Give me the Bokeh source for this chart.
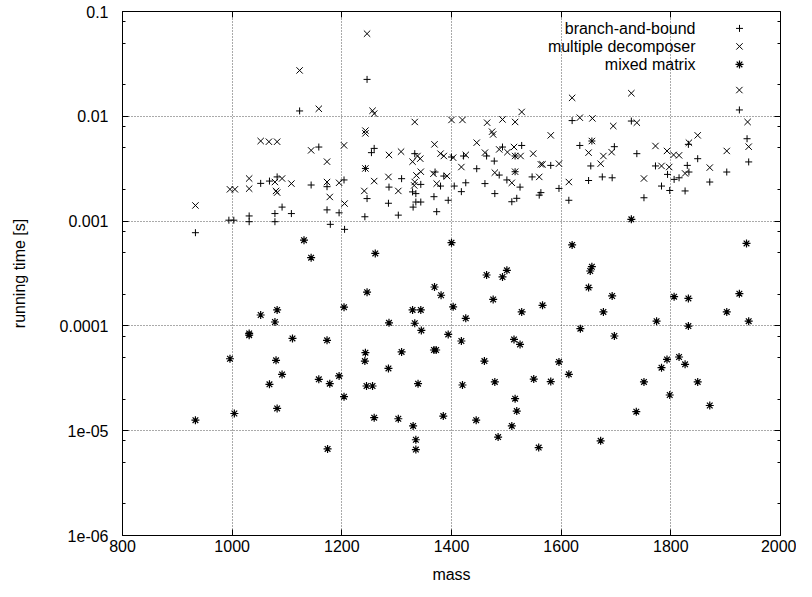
from bokeh.plotting import figure
from bokeh.models import (Range1d, FixedTicker, LinearAxis, LogAxis, LinearScale,
                          CustomJSTickFormatter, CustomLabelingPolicy)
from bokeh.core.properties import value
from bokeh.embed import file_html
from bokeh.resources import INLINE

# ---------------- data ----------------
bb_mass = [1123, 1246, 1620, 1925, 1728,
           933, 994, 1003, 1031, 1031, 1052, 1068, 1082, 1091, 1078, 1108, 1078,
           1158, 1259, 1254, 1144, 1173, 1204, 1173, 1195, 1179, 1205, 1243, 1246, 1242, 1286, 1285, 1309,
           1303, 1333, 1344, 1329, 1335, 1335, 1344, 1330,
           1400, 1422, 1370, 1386, 1380, 1405, 1426, 1418, 1368, 1394, 1373, 1464, 1446, 1478, 1493, 1528,
           1516, 1487, 1516, 1501, 1525, 1461, 1479, 1510, 1519, 1547, 1563, 1560,
           1634, 1656, 1581, 1596, 1614, 1654, 1650, 1697, 1675, 1693, 1738, 1751, 1772, 1794, 1783, 1798,
           1806, 1815, 1830, 1833, 1826, 1832, 1849, 1871, 1902, 1939, 1942]
bb_time = [0.01125, 0.0225, 0.0091, 0.0115, 0.00901,
           0.000775, 0.00102, 0.00102, 0.00112, 0.000987, 0.00229, 0.00241, 0.00264, 0.00136, 0.00118, 0.00118, 0.000987,
           0.00509, 0.00494, 0.00450, 0.00221, 0.00213, 0.00247, 0.00128, 0.00120, 0.000931, 0.000834, 0.00318, 0.00164,
           0.00110, 0.00211, 0.00148, 0.00254, 0.00114, 0.00440, 0.00224, 0.00190, 0.00183, 0.00152, 0.00152, 0.00136,
           0.00409, 0.00418, 0.00294, 0.00269, 0.00216, 0.00216, 0.00232, 0.00191, 0.00171, 0.00158, 0.00123, 0.00418,
           0.00316, 0.00374, 0.00509, 0.00527, 0.00418, 0.00275, 0.00296, 0.00247, 0.00211, 0.00228, 0.00183, 0.00153,
           0.00165, 0.00264, 0.00187, 0.00177,
           0.00527, 0.00581, 0.00340, 0.00205, 0.00158, 0.00336, 0.00244, 0.00513, 0.00264, 0.00259, 0.00440, 0.00167,
           0.00336, 0.00279, 0.00216, 0.00196, 0.00250, 0.00259, 0.00340, 0.00294, 0.00194, 0.00540, 0.00394, 0.00236,
           0.00294, 0.00611, 0.00367]

md_mass = [1123, 1158, 1246, 1256, 1259, 1243, 1333, 1400, 1420, 1465, 1493, 1516, 1528, 1474, 1620, 1728, 1925,
           1634, 1657, 1695, 1738, 1940,
           1052, 1067, 1082, 933, 996, 1005, 1031, 1031, 1078, 1091, 1080, 1082, 1108,
           1243, 1144, 1204, 1173, 1286, 1308, 1173, 1195, 1178, 1205, 1243, 1259, 1241, 1285, 1303, 1329, 1338,
           1343, 1344, 1336, 1333, 1332,
           1369, 1380, 1386, 1403, 1426, 1418, 1367, 1392, 1373, 1446, 1476, 1461, 1487, 1502, 1514, 1516, 1526,
           1549, 1479, 1516, 1510, 1563, 1560,
           1581, 1656, 1650, 1566, 1596, 1614, 1677, 1692, 1672, 1751, 1772, 1793, 1805, 1815, 1833, 1849, 1783,
           1797, 1826, 1871, 1902, 1942]
md_time = [0.0274, 0.0118, 0.0614, 0.0113, 0.0106, 0.0073, 0.00883, 0.00923, 0.00923, 0.00869, 0.00933, 0.00883,
           0.0110, 0.00713, 0.0150, 0.0166, 0.0178, 0.0097, 0.00955, 0.00808, 0.00869, 0.00883,
           0.00581, 0.00572, 0.00572, 0.00141, 0.00201, 0.00201, 0.00255, 0.00204, 0.00236, 0.00255, 0.00194,
           0.00187, 0.00228,
           0.00687, 0.00473, 0.00528, 0.00369, 0.00428, 0.00460, 0.00236, 0.00232, 0.00170, 0.00147, 0.00318,
           0.00241, 0.00194, 0.00264, 0.00194, 0.00369, 0.00418, 0.00394, 0.00296, 0.00273, 0.00236, 0.00219,
           0.00540, 0.00440, 0.00418, 0.00403, 0.00428, 0.00328, 0.00283, 0.00269, 0.00228, 0.00560, 0.00671,
           0.00450, 0.00483, 0.00455, 0.00509, 0.00418, 0.00418, 0.00440, 0.00290, 0.00296, 0.00232, 0.00348, 0.00264,
           0.00658, 0.00581, 0.00450, 0.00348, 0.00353, 0.00236, 0.00418, 0.00455, 0.00353, 0.00255, 0.00521,
           0.00467, 0.00428, 0.00424, 0.00560, 0.00658, 0.00336, 0.00328, 0.00285, 0.00324, 0.00467, 0.00513]

mm_mass = [1131, 1144, 1261, 1400, 1246, 1204, 1286, 1329, 1344, 1333, 1345, 1369, 1381, 1403, 1426, 1464, 1493,
           1501, 1476, 1528, 1566,
           1110, 1173, 1394, 1418, 1243, 1242, 1309, 1368, 1372, 1514, 1525, 1285, 1158, 1178, 1195, 1245, 1256,
           1339, 1460, 1420, 1479, 1550,
           1204, 1516, 1519, 1259, 1303, 1385, 1445, 1330, 1510, 1485, 1174, 1335, 1335, 1559, 1672,
           1620, 1656, 1653, 1650, 1693, 1677, 1774, 1635, 1697, 1806, 1832, 1832, 1902, 1925, 1942, 1938, 1596,
           1581, 1614, 1751, 1793, 1783, 1815, 1826, 1849, 1798, 1737, 1871,
           1052, 1082, 1078, 1031, 1031, 996, 1080, 1091, 1068, 1082, 1004, 933, 1728]
mm_time = [0.000658, 0.000448, 0.000492, 0.000622, 0.000210, 0.000151, 0.000107, 0.000142, 0.000142, 0.000106,
           0.0000906, 0.000235, 0.000196, 0.000152, 0.000118, 0.000306, 0.000293, 0.000339, 0.000179, 0.000136,
           0.000157,
           0.0000760, 0.0000728, 0.0000830, 0.0000718, 0.0000555, 0.0000462, 0.0000564, 0.0000589, 0.0000589,
           0.0000743, 0.0000665, 0.0000393, 0.0000309, 0.0000281, 0.0000333, 0.0000267, 0.0000267, 0.0000281,
           0.0000462, 0.0000273, 0.0000292, 0.0000311,
           0.0000211, 0.0000202, 0.0000154, 0.0000133, 0.0000130, 0.0000138, 0.0000126, 0.0000111, 0.0000111,
           0.0000087, 0.0000067, 0.0000082, 0.0000066, 0.0000069, 0.0000080,
           0.000592, 0.000367, 0.000334, 0.000232, 0.000193, 0.000136, 0.000111, 0.0000940, 0.0000801, 0.000190,
           0.000183, 0.0000997, 0.000136, 0.000203, 0.000111, 0.000612, 0.0000453, 0.0000294, 0.0000345, 0.0000292,
           0.0000479, 0.0000399, 0.0000505, 0.0000430, 0.0000292, 0.0000219, 0.0000152, 0.0000174,
           0.000127, 0.000142, 0.000109, 0.0000847, 0.0000816, 0.0000486, 0.0000469, 0.0000344, 0.0000277,
           0.0000163, 0.0000146, 0.0000126, 0.00104]

x_ticks = [800, 1000, 1200, 1400, 1600, 1800, 2000]
y_ticks = [1e-6, 1e-5, 1e-4, 1e-3, 1e-2, 1e-1]
y_tick_labels = ["1e-06", "1e-05", "0.0001", "0.001", "0.01", "0.1"]
y_minor = [m * 10.0 ** e for e in range(-6, -1) for m in (2, 5, 8)]

series_names = ["branch-and-bound", "multiple decomposer", "mixed matrix"]

FONT = "Liberation Sans"
FS = "16px"
FW, FH = 658, 524

p = figure(frame_width=FW, frame_height=FH, y_axis_type="log",
           x_range=Range1d(800, 2000), y_range=Range1d(1e-6, 0.1),
           output_backend="svg", toolbar_location=None,
           min_border_left=122, min_border_top=11, min_border_right=16, min_border_bottom=40)
p.background_fill_color = "white"
p.border_fill_color = "white"
p.outline_line_color = "black"
p.outline_line_width = 1

xt = FixedTicker(ticks=x_ticks, minor_ticks=[])
yt = FixedTicker(ticks=y_ticks, minor_ticks=y_minor)
yfmt = CustomJSTickFormatter(args=dict(vals=y_ticks, labs=y_tick_labels), code="""
let best = 0, bd = Infinity;
for (let i = 0; i < vals.length; i++) {
  const d = Math.abs(Math.log10(tick) - Math.log10(vals[i]));
  if (d < bd) { bd = d; best = i; }
}
return labs[best];
""")

p.xaxis.ticker = xt
p.yaxis.ticker = yt
p.yaxis.formatter = yfmt

for ax in (p.xaxis[0], p.yaxis[0]):
    ax.axis_line_color = "black"
    ax.major_tick_in = 6
    ax.major_tick_out = 0
    ax.minor_tick_in = 3
    ax.minor_tick_out = 0
    ax.major_tick_line_color = "black"
    ax.minor_tick_line_color = "black"
    ax.major_label_text_font = FONT
    ax.major_label_text_font_size = FS
    ax.major_label_text_color = "black"
    ax.axis_label_text_font = FONT
    ax.axis_label_text_font_size = FS
    ax.axis_label_text_font_style = "normal"
    ax.axis_label_text_color = "black"

p.xaxis.axis_label = "mass"
p.yaxis.axis_label = "running time [s]"
p.xaxis.major_label_standoff = 4
p.xaxis.axis_label_standoff = 11
p.yaxis.major_label_standoff = 14
p.yaxis.axis_label_standoff = 29

# mirrored ticks on top and right (no labels drawn)
hide_labels = dict(code="return new indices.constructor(indices.size, 0);")
top = LinearAxis(ticker=xt, major_label_text_font_size="2px", major_label_standoff=0,
                 major_label_policy=CustomLabelingPolicy(**hide_labels),
                 major_tick_in=6, major_tick_out=0, minor_tick_in=3, minor_tick_out=0,
                 axis_line_color=None, major_tick_line_color="black")
right = LogAxis(ticker=yt, major_label_text_font_size="2px", major_label_standoff=0,
                major_label_policy=CustomLabelingPolicy(**hide_labels),
                major_tick_in=6, major_tick_out=0, minor_tick_in=3, minor_tick_out=0,
                axis_line_color=None, major_tick_line_color="black", minor_tick_line_color="black")
p.add_layout(top, "above")
p.add_layout(right, "right")

for g in (p.xgrid[0], p.ygrid[0]):
    g.grid_line_color = "#555555"
    g.grid_line_dash = "1 2"
    g.grid_line_width = 1

styles = [dict(marker="cross", size=7, line_color="black", line_width=1),
          dict(marker="x", size=9, line_color="black", line_width=1),
          dict(marker="asterisk", size=8, line_color="black", line_width=1.2)]

p.scatter(bb_mass, bb_time, **styles[0])
p.scatter(md_mass, md_time, **styles[1])
p.scatter(mm_mass, mm_time, **styles[2])

# gnuplot-style key (text right-aligned, sample on its right), in a 0..1 frame-fraction space
p.extra_x_ranges = {"key": Range1d(0, 1)}
p.extra_y_ranges = {"key": Range1d(0, 1)}
p.extra_y_scales = {"key": LinearScale()}
key_text_x = 1 - (788 - 703) / FW
key_mark_x = 1 - (788 - 747) / FW
key_rows = [1 - (35.7 - 18.8 + 18 * i) / FH for i in range(3)]

p.text(x=[key_text_x] * 3, y=key_rows, text=series_names, text_align="right", text_baseline="middle",
       text_font=value(FONT), text_font_size=value(FS), text_color="black",
       x_range_name="key", y_range_name="key")
for i, st in enumerate(styles):
    p.scatter([key_mark_x], [key_rows[i]], x_range_name="key", y_range_name="key", **st)

open("out.html", "w").write(file_html(p, INLINE))
